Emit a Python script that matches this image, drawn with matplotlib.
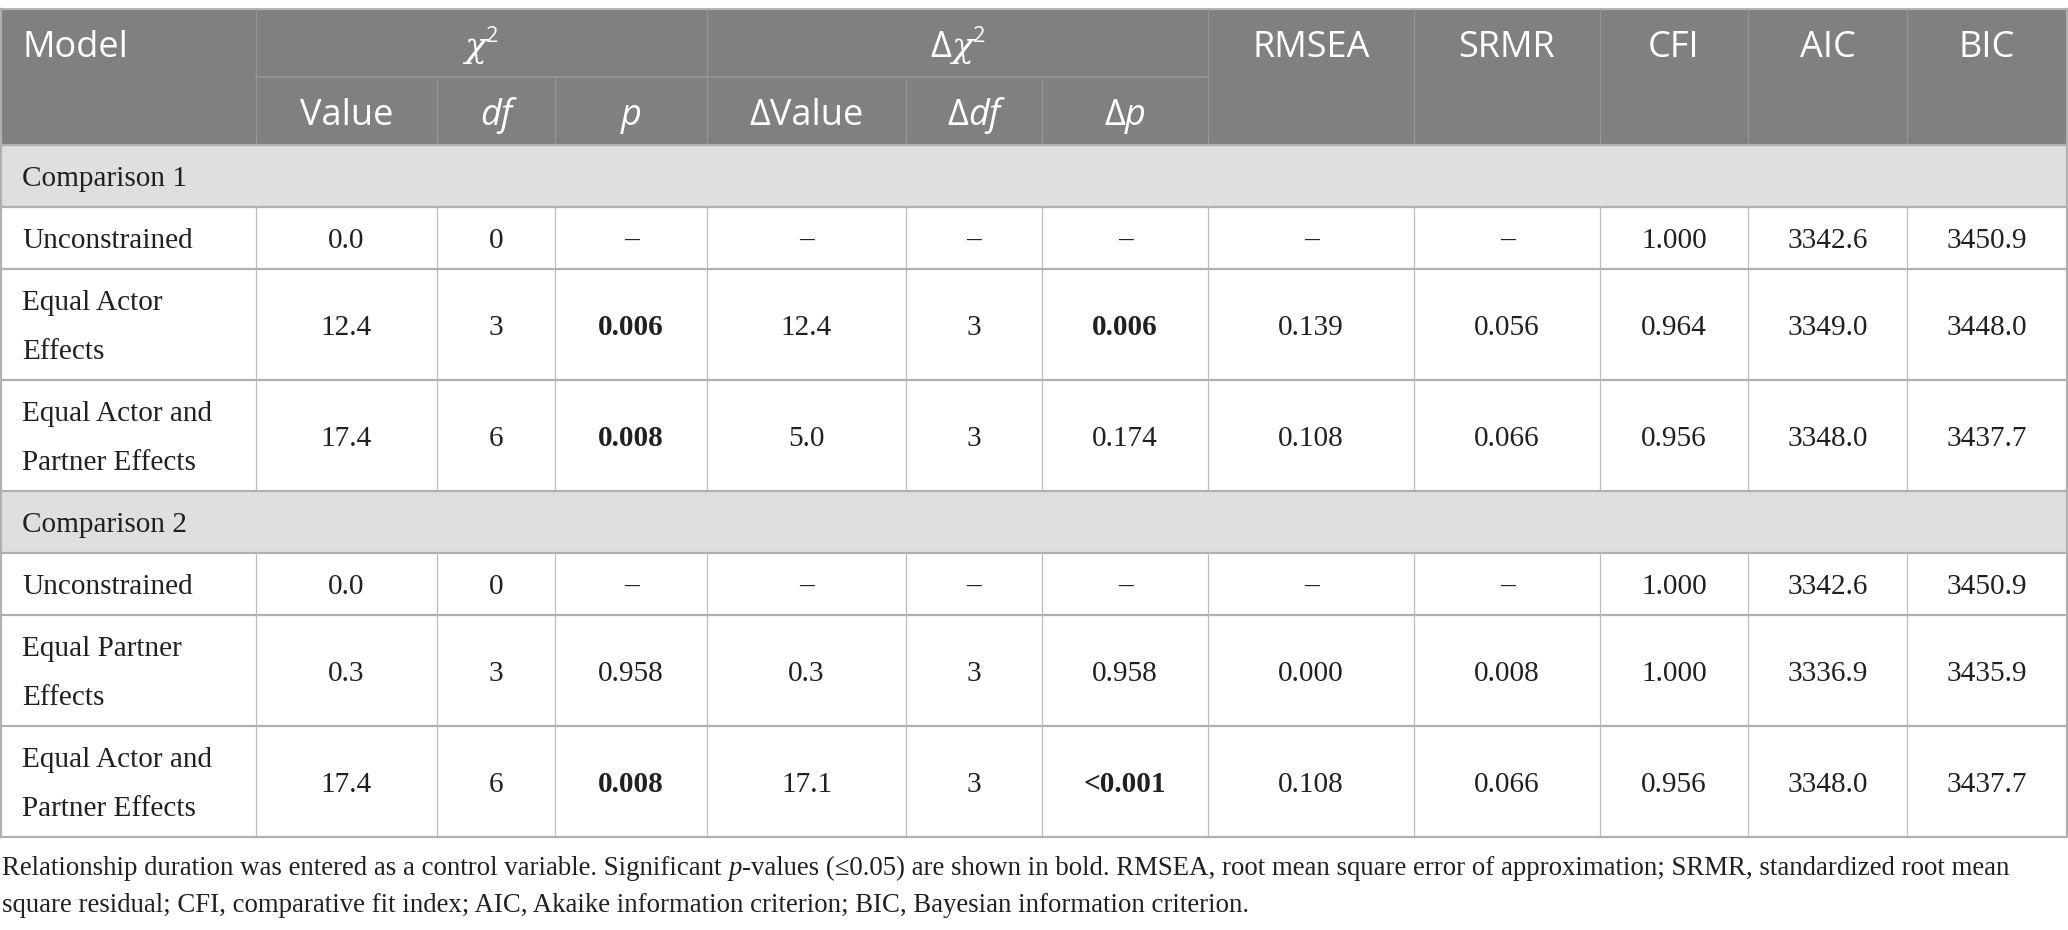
import matplotlib
matplotlib.use("Agg")
import matplotlib.pyplot as plt
from matplotlib.patches import Rectangle

# ---- table content ----
sections = ["Comparison 1", "Comparison 2"]
models = [
    ["Unconstrained", "Equal Actor\nEffects", "Equal Actor and\nPartner Effects"],
    ["Unconstrained", "Equal Partner\nEffects", "Equal Actor and\nPartner Effects"],
]
chi_value = ["0.0", "12.4", "17.4", "0.0", "0.3", "17.4"]
chi_df = ["0", "3", "6", "0", "3", "6"]
chi_p = ["–", "0.006", "0.008", "–", "0.958", "0.008"]
d_value = ["–", "12.4", "5.0", "–", "0.3", "17.1"]
d_df = ["–", "3", "3", "–", "3", "3"]
d_p = ["–", "0.006", "0.174", "–", "0.958", "<0.001"]
rmsea = ["–", "0.139", "0.108", "–", "0.000", "0.108"]
srmr = ["–", "0.056", "0.066", "–", "0.008", "0.066"]
cfi = ["1.000", "0.964", "0.956", "1.000", "1.000", "0.956"]
aic = ["3342.6", "3349.0", "3348.0", "3342.6", "3336.9", "3348.0"]
bic = ["3450.9", "3448.0", "3437.7", "3450.9", "3435.9", "3437.7"]
fit_labels = ["RMSEA", "SRMR", "CFI", "AIC", "BIC"]

footnote1 = [("Relationship duration was entered as a control variable. Significant ", "normal"),
             ("p", "italic"),
             ("-values (≤0.05) are shown in bold. RMSEA, root mean square error of approximation; "
              "SRMR, standardized root mean", "normal")]
footnote2 = "square residual; CFI, comparative fit index; AIC, Akaike information criterion; BIC, Bayesian information criterion."

# ---- layout ----
W, H = 2068, 930
col_edges = [0, 256, 437, 555, 707, 906, 1042, 1208, 1414, 1600, 1748, 1907, 2067]
head_top, head_mid, head_bot = 9, 77, 145
sec_h, short_h, tall_h = 62, 62, 111

HEAD_BG = "#7f807f"
SEC_BG = "#e0dfe0"
LINE = "#bdbdbd"
ROWLINE = "#b0b0b0"
TXT = "#231f20"
SERIF = "Liberation Serif"
SANS = "Open Sans"
BODY_FS = 21.1
HEAD_FS = 26

fig = plt.figure(figsize=(W / 100, H / 100), dpi=100)
ax = fig.add_axes([0, 0, 1, 1])
ax.set_xlim(0, W)
ax.set_ylim(H, 0)
ax.axis("off")
renderer = fig.canvas.get_renderer()


def runs(parts, x, y, ha="left", max_width=None, **common):
    # parts: list of (text, extra props, dy) drawn one after another on one baseline
    objs = []
    for txt, props, dy in parts:
        kw = dict(common)
        kw.update(props)
        objs.append(ax.text(0, y + dy, txt, ha="left", va="baseline", **kw))
    widths = [t.get_window_extent(renderer).width for t in objs]
    f = 1.0
    if max_width and sum(widths) > max_width:
        f = max_width / sum(widths)
        for t in objs:
            t.set_fontsize(t.get_fontsize() * f)
        widths = [t.get_window_extent(renderer).width for t in objs]
    total = sum(widths)
    x0 = x - total / 2 if ha == "center" else x
    for t, w in zip(objs, widths):
        t.set_x(x0)
        x0 += w
    return f


def cx(i):
    return (col_edges[i] + col_edges[i + 1]) / 2


# header
ax.add_patch(Rectangle((0, head_top), W, head_bot - head_top, color=HEAD_BG, lw=0))
ax.plot([0, W], [head_top, head_top], color="#b5b5b5", lw=1.5)
ax.plot([col_edges[1], col_edges[7]], [head_mid, head_mid], color="#979797", lw=1.2)
for i, x in enumerate(col_edges[1:-1], start=1):
    y0 = head_mid if i in (2, 3, 5, 6) else head_top
    ax.plot([x, x], [y0, head_bot], color="#979797", lw=0.8)

hb1, hb2 = 57, 125
hkw = dict(color="white", family=SANS, fontsize=HEAD_FS)
runs([("Model", {}, 0)], 22, hb1, **hkw)
for i, lab in zip(range(7, 12), fit_labels):
    runs([(lab, {}, 0)], cx(i), hb1, ha="center", **hkw)
chi = ("χ", dict(style="italic", family="DejaVu Serif"), 0)
sup = ("2", dict(fontsize=HEAD_FS * 0.6), -15)
runs([chi, sup], (col_edges[1] + col_edges[4]) / 2, hb1, ha="center", **hkw)
runs([("Δ", {}, 0), chi, sup], (col_edges[4] + col_edges[7]) / 2, hb1, ha="center", **hkw)
ital = dict(style="italic")
runs([("Value", {}, 0)], cx(1), hb2, ha="center", **hkw)
runs([("df", ital, 0)], cx(2), hb2, ha="center", **hkw)
runs([("p", ital, 0)], cx(3), hb2, ha="center", **hkw)
runs([("ΔValue", {}, 0)], cx(4), hb2, ha="center", **hkw)
runs([("Δ", {}, 0), ("df", ital, 0)], cx(5), hb2, ha="center", **hkw)
runs([("Δ", {}, 0), ("p", ital, 0)], cx(6), hb2, ha="center", **hkw)

# body
columns = [chi_value, chi_df, chi_p, d_value, d_df, d_p, rmsea, srmr, cfi, aic, bic]


def is_sig(s):
    if s.startswith("<"):
        return True
    try:
        return float(s) <= 0.05
    except ValueError:
        return False


bkw = dict(color=TXT, family=SERIF, fontsize=BODY_FS)
y = head_bot
k = 0
for sec, names in zip(sections, models):
    ax.add_patch(Rectangle((0, y), W, sec_h, color=SEC_BG, lw=0))
    ax.text(22, y + sec_h / 2, sec, ha="left", va="center_baseline", **bkw)
    ax.plot([0, W], [y, y], color=ROWLINE, lw=1.6)
    y += sec_h
    for name in names:
        h = tall_h if "\n" in name else short_h
        ax.plot([0, W], [y, y], color=ROWLINE, lw=1.6)
        for x in col_edges[1:-1]:
            ax.plot([x, x], [y, y + h], color=LINE, lw=0.9)
        mid = y + h / 2
        lines = name.split("\n")
        for j, ln in enumerate(lines):
            off = (j - (len(lines) - 1) / 2) * 49
            ax.text(22, mid + off, ln, ha="left", va="center_baseline", **bkw)
        for ci, col in enumerate(columns):
            val = col[k]
            wt = "bold" if (ci + 1) in (3, 6) and is_sig(val) else "normal"
            ax.text(cx(ci + 1), mid, val, ha="center", va="center_baseline", weight=wt, **bkw)
        y += h
        k += 1
ax.plot([0, W], [y, y], color=ROWLINE, lw=1.6)
ax.plot([0.8, 0.8], [head_top, y], color=ROWLINE, lw=1.6)
ax.plot([W - 0.8, W - 0.8], [head_top, y], color=ROWLINE, lw=1.6)

# footnote: both lines share the size that makes line one fit the table width
parts = [(t, ital if s == "italic" else {}, 0) for t, s in footnote1]
f = runs(parts, 2, 875, max_width=2006, **bkw)
fkw = dict(bkw, fontsize=BODY_FS * f)
runs([(footnote2, {}, 0)], 2, 912, **fkw)

fig.savefig("out.png", dpi=100)
